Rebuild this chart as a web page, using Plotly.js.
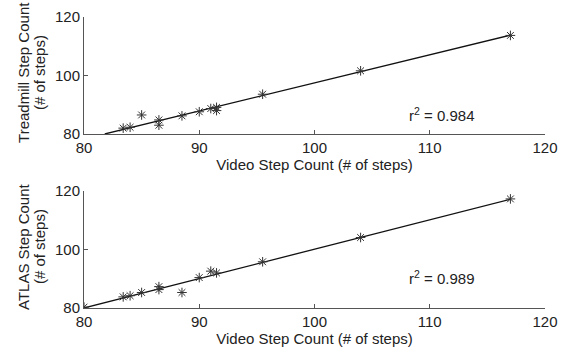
<!DOCTYPE html>
<html><head><meta charset="utf-8">
<script src="https://cdn.plot.ly/plotly-3.0.1.min.js"></script>
<style>html,body{margin:0;padding:0;background:#fff}#c{width:564px;height:349px}</style>
</head><body><div id="c"></div>
<script>
// Treadmill vs Video
const videoTop = [83.4, 84, 85, 86.5, 86.5, 88.5, 90, 91, 91.5, 91.5, 95.5, 104, 117];
const treadmill = [82, 82.3, 86.5, 84.8, 83, 86.2, 87.6, 88.7, 89.1, 88, 93.6, 101.6, 113.7];
const fitTopX = [81.8, 117];
const fitTopY = [80, 113.8];
// ATLAS vs Video
const videoBot = [80, 83.4, 84, 85, 86.5, 86.5, 88.5, 90, 91, 91.5, 95.5, 104, 117];
const atlas = [80.3, 83.8, 84.2, 85.3, 87.3, 86.3, 85.3, 90.4, 92.6, 92, 95.8, 104.1, 117.3];
const fitBotX = [80, 117];
const fitBotY = [80, 117.2];
const r2Labels = ["r<sup>2</sup> = 0.984", "r<sup>2</sup> = 0.989"];
const xTitle = 'Video Step Count (# of steps)';
const yTitleTop = ['Treadmill Step Count', '(# of steps)'];
const yTitleBot = ['ATLAS Step Count', '(# of steps)'];
const xTicks = [80, 90, 100, 110, 120];
const yTicks = [80, 100, 120];

const ink = '#333';
const font = {family: 'Liberation Sans, Arial, sans-serif', size: 14, color: '#222'};
const tfont = {family: 'Liberation Sans, Arial, sans-serif', size: 15, color: '#222'};
function ptTrace(x, y, xa, ya) {
  return {x, y, xaxis: xa, yaxis: ya, mode: 'markers', type: 'scatter', hoverinfo: 'skip',
    marker: {symbol: 'asterisk-open', size: 8, color: ink, line: {color: ink, width: 1}}};
}
function lineTrace(x, y, xa, ya) {
  return {x, y, xaxis: xa, yaxis: ya, mode: 'lines', type: 'scatter', hoverinfo: 'skip',
    line: {color: '#111', width: 1.3}};
}
const data = [
  lineTrace(fitTopX, fitTopY, 'x', 'y'),
  ptTrace(videoTop, treadmill, 'x', 'y'),
  lineTrace(fitBotX, fitBotY, 'x2', 'y2'),
  ptTrace(videoBot, atlas, 'x2', 'y2')
];
function xax(anchor) {
  return {anchor, range: [80, 120], tickvals: xTicks, ticks: 'inside', ticklen: 4, tickcolor: '#555',
    showline: true, linecolor: '#555', linewidth: 1, showgrid: false, zeroline: false,
    tickfont: tfont, title: {text: xTitle, font: tfont, standoff: 0}};
}
function yax(anchor, domain) {
  return {anchor, domain, range: [80, 120], tickvals: yTicks, ticks: 'inside', ticklen: 4, tickcolor: '#555',
    showline: true, linecolor: '#555', linewidth: 1, showgrid: false, zeroline: false,
    tickfont: tfont};
}
function ytitle(text, x, y) {
  return {xref: 'paper', yref: 'paper', x, y, text, textangle: -90, showarrow: false,
    font: tfont, xanchor: 'center', yanchor: 'middle'};
}
const layout = {
  width: 564, height: 349, showlegend: false,
  paper_bgcolor: '#fff', plot_bgcolor: '#fff',
  margin: {l: 84, r: 19, t: 17, b: 41},
  font: font,
  xaxis: xax('y'),
  yaxis: yax('x', [0.598, 1]),
  xaxis2: xax('y2'),
  yaxis2: yax('x2', [0, 0.402]),
  annotations: [
    {xref: 'x', yref: 'y', x: 111, y: 86.5, text: r2Labels[0], showarrow: false, font: tfont},
    {xref: 'x2', yref: 'y2', x: 111, y: 90.3, text: r2Labels[1], showarrow: false, font: tfont},
    ytitle(yTitleTop[0], -0.130, 0.808),
    ytitle(yTitleTop[1], -0.095, 0.808),
    ytitle(yTitleBot[0], -0.130, 0.210),
    ytitle(yTitleBot[1], -0.095, 0.210)
  ]
};
Plotly.newPlot('c', data, layout, {staticPlot: true, displayModeBar: false});
</script></body></html>
